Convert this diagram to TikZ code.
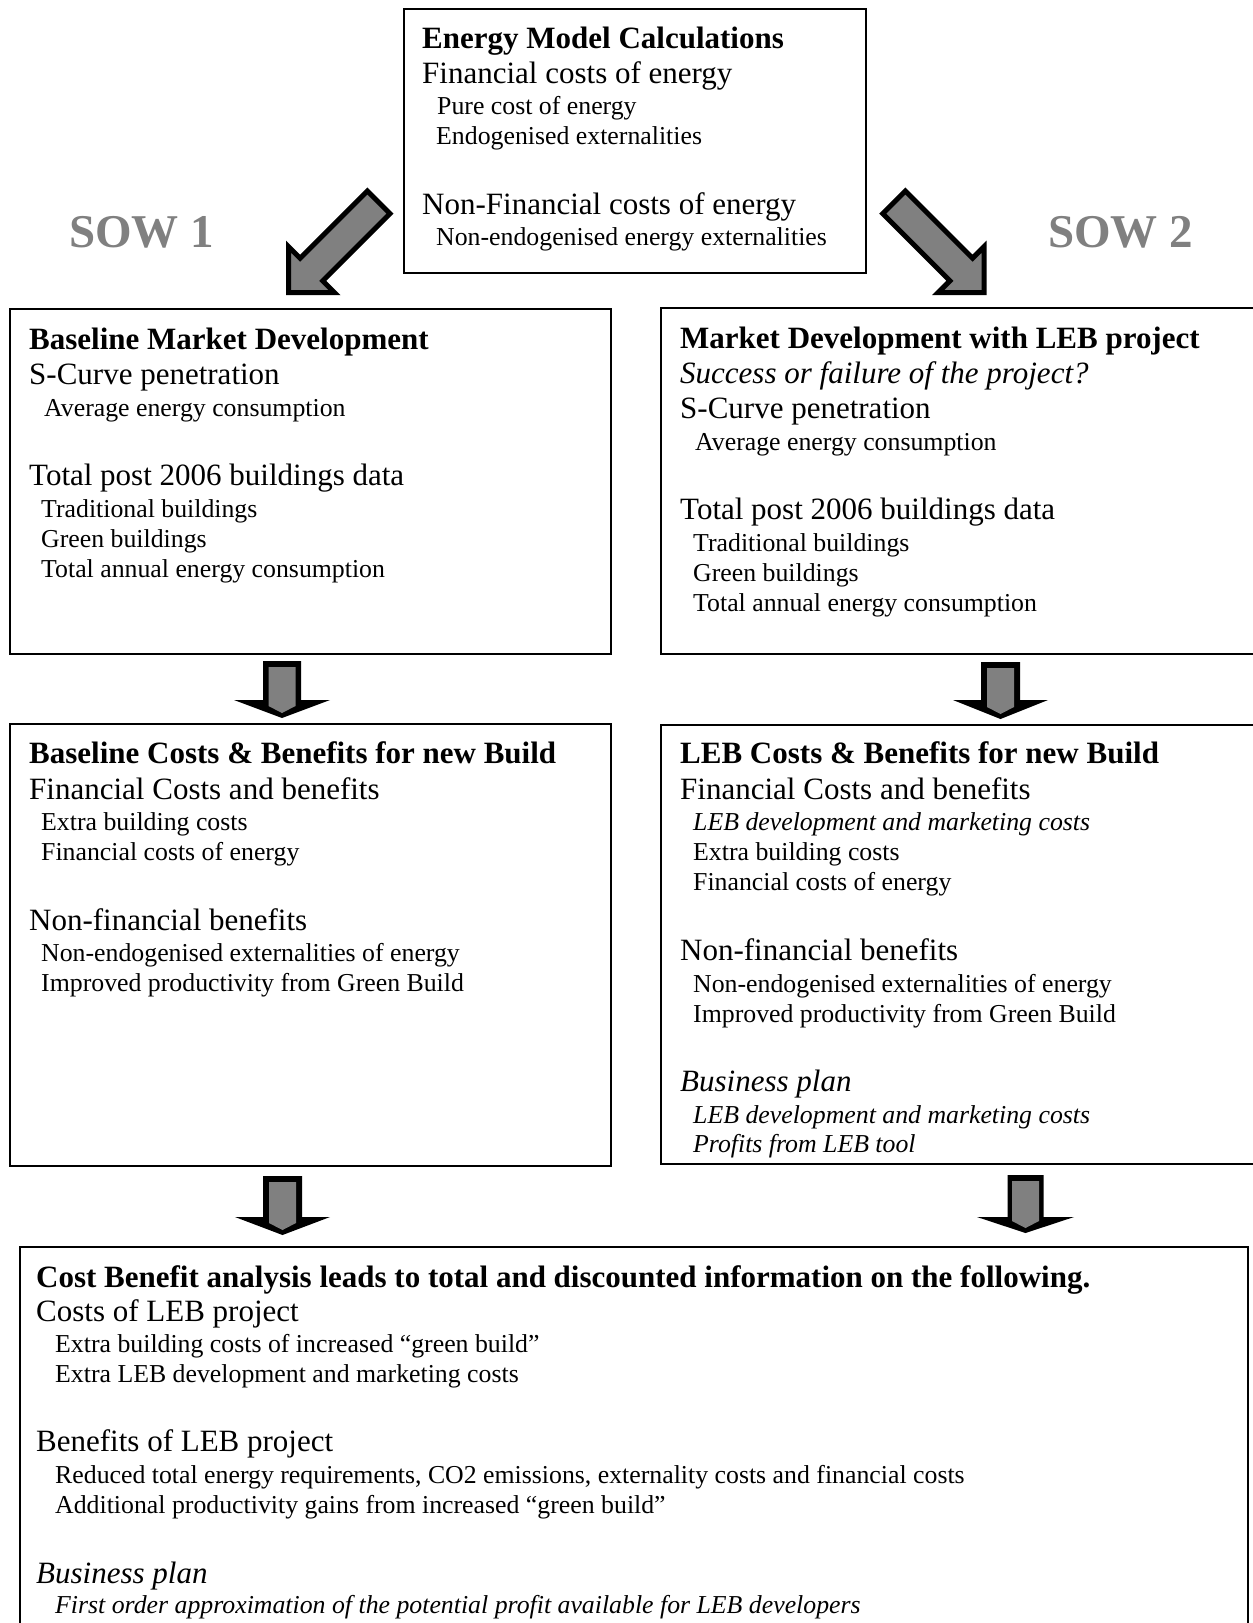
\documentclass[tikz,border=0pt]{standalone}
\usepackage{fontspec}
\setmainfont{Liberation Serif}
\usetikzlibrary{calc}

\tikzset{
  panel/.style={draw, line width=2pt, rectangle, inner sep=0pt, anchor=north west},
  headtxt/.style={anchor=base west, inner sep=0pt, font=\fontsize{31}{37}\selectfont\bfseries},
  bigtxt/.style={anchor=base west, inner sep=0pt, font=\fontsize{31}{37}\selectfont},
  bigit/.style={bigtxt, font=\fontsize{31}{37}\selectfont\itshape},
  smalltxt/.style={anchor=base west, inner sep=0pt, font=\fontsize{25.8}{30}\selectfont},
  smallit/.style={smalltxt, font=\fontsize{25.8}{30}\selectfont\itshape},
  sowtxt/.style={anchor=base west, inner sep=0pt, text=black!50, font=\fontsize{47}{56}\selectfont\bfseries},
  diagarrow/.style={fill=black!50, draw=black, line width=5pt, line join=miter}
}

% block arrow: [style]{tail}{tip}{shaft half width}{head half width}{head length}
\newcommand{\blockarrow}[6][]{%
  \coordinate (ba-h) at ($(#3)!#6!(#2)$);
  \path[#1] ($(#2)!#4!90:(#3)$) -- ($(ba-h)!#4!90:(#3)$) -- ($(ba-h)!#5!90:(#3)$) -- (#3)
    -- ($(ba-h)!#5!-90:(#3)$) -- ($(ba-h)!#4!-90:(#3)$) -- ($(#2)!#4!-90:(#3)$) -- cycle;
}
% black down arrow with a grey core
\newcommand{\downblock}[5]{%
  \blockarrow[fill=black]{#1}{#2}{#3}{#4}{#5}
  \coordinate (db-a) at ($(#1)!6pt!(#2)$);
  \coordinate (db-b) at ($(#2)!5pt!(#1)$);
  \blockarrow[fill=black!50]{db-a}{db-b}{13.5pt}{13.5pt}{7pt}
}

\begin{document}
\begin{tikzpicture}[x=1pt,y=-1pt]
    \useasboundingbox (0,0) rectangle (1253,1623);
    \clip (0,0) rectangle (1253,1623);

    % boxes
    \node[panel, minimum width=462pt, minimum height=264pt] (calc) at (403,8) {};
    \node[panel, minimum width=601pt, minimum height=345pt] (base) at (9,308) {};
    \node[panel, minimum width=600pt, minimum height=346pt] (leb) at (660,307) {};
    \node[panel, minimum width=601pt, minimum height=442pt] (cost) at (9,723) {};
    \node[panel, minimum width=600pt, minimum height=439pt] (lebc) at (660,724) {};
    \node[panel, minimum width=1228pt, minimum height=384pt] (cba) at (19,1246) {};

    % energy model
    \node[headtxt] (calc-t) at (422,48) {Energy Model Calculations};
    \node[bigtxt] (calc-f) at (422,83) {Financial costs of energy};
    \node[smalltxt] (calc-f1) at (437,114) {Pure cost of energy};
    \node[smalltxt] (calc-f2) at (436,144) {Endogenised externalities};
    \node[bigtxt] (calc-n) at (422,214) {Non-Financial costs of energy};
    \node[smalltxt] (calc-n1) at (436,245) {Non-endogenised energy externalities};

    % baseline market
    \node[headtxt] (base-t) at (29,349) {Baseline Market Development};
    \node[bigtxt] (base-s) at (29,384) {S-Curve penetration};
    \node[smalltxt] (base-s1) at (44,416) {Average energy consumption};
    \node[bigtxt] (base-p) at (29,485) {Total post 2006 buildings data};
    \node[smalltxt] (base-p1) at (41,517) {Traditional buildings};
    \node[smalltxt] (base-p2) at (41,547) {Green buildings};
    \node[smalltxt] (base-p3) at (41,577) {Total annual energy consumption};

    % market with LEB
    \node[headtxt] (leb-t) at (680,348) {Market Development with LEB project};
    \node[bigit] (leb-q) at (680,383) {Success or failure of the project?};
    \node[bigtxt] (leb-s) at (680,418) {S-Curve penetration};
    \node[smalltxt] (leb-s1) at (695,450) {Average energy consumption};
    \node[bigtxt] (leb-p) at (680,519) {Total post 2006 buildings data};
    \node[smalltxt] (leb-p1) at (693,551) {Traditional buildings};
    \node[smalltxt] (leb-p2) at (693,581) {Green buildings};
    \node[smalltxt] (leb-p3) at (693,611) {Total annual energy consumption};

    % baseline costs
    \node[headtxt] (cost-t) at (29,763) {Baseline Costs \& Benefits for new Build};
    \node[bigtxt] (cost-f) at (29,799) {Financial Costs and benefits};
    \node[smalltxt] (cost-f1) at (41,830) {Extra building costs};
    \node[smalltxt] (cost-f2) at (41,860) {Financial costs of energy};
    \node[bigtxt] (cost-n) at (29,930) {Non-financial benefits};
    \node[smalltxt] (cost-n1) at (41,961) {Non-endogenised externalities of energy};
    \node[smalltxt] (cost-n2) at (41,991) {Improved productivity from Green Build};

    % LEB costs
    \node[headtxt] (lebc-t) at (680,763) {LEB Costs \& Benefits for new Build};
    \node[bigtxt] (lebc-f) at (680,799) {Financial Costs and benefits};
    \node[smallit] (lebc-f1) at (693,830) {LEB development and marketing costs};
    \node[smalltxt] (lebc-f2) at (693,860) {Extra building costs};
    \node[smalltxt] (lebc-f3) at (693,890) {Financial costs of energy};
    \node[bigtxt] (lebc-n) at (680,960) {Non-financial benefits};
    \node[smalltxt] (lebc-n1) at (693,992) {Non-endogenised externalities of energy};
    \node[smalltxt] (lebc-n2) at (693,1022) {Improved productivity from Green Build};
    \node[bigit] (lebc-b) at (680,1091) {Business plan};
    \node[smallit] (lebc-b1) at (693,1123) {LEB development and marketing costs};
    \node[smallit] (lebc-b2) at (693,1152) {Profits from LEB tool};

    % cost benefit analysis
    \node[headtxt] (cba-t) at (36,1287) {Cost Benefit analysis leads to total and discounted information on the following.};
    \node[bigtxt] (cba-c) at (36,1321) {Costs of LEB project};
    \node[smalltxt] (cba-c1) at (55,1352) {Extra building costs of increased “green build”};
    \node[smalltxt] (cba-c2) at (55,1382) {Extra LEB development and marketing costs};
    \node[bigtxt] (cba-b) at (36,1451) {Benefits of LEB project};
    \node[smalltxt] (cba-b1) at (55,1483) {Reduced total energy requirements, CO2 emissions, externality costs and financial costs};
    \node[smalltxt] (cba-b2) at (55,1513) {Additional productivity gains from increased “green build”};
    \node[bigit] (cba-p) at (36,1583) {Business plan};
    \node[smallit] (cba-p1) at (55,1613) {First order approximation of the potential profit available for LEB developers};

    % SOW labels
    \node[sowtxt] (sow1) at (69,247) {SOW 1};
    \node[sowtxt] (sow2) at (1048,247) {SOW 2};

    % diagonal arrows
    \coordinate (sow1-tail) at (378.7,202.3);
    \coordinate (sow1-tip) at (288.5,292.5);
    \blockarrow[diagarrow]{sow1-tail}{sow1-tip}{16pt}{32.5pt}{32.5pt}
    \coordinate (sow2-tail) at (894,202.3);
    \coordinate (sow2-tip) at (984.2,292.5);
    \blockarrow[diagarrow]{sow2-tail}{sow2-tip}{16pt}{32.5pt}{32.5pt}

    % down arrows
    \coordinate (d1-tail) at (282,661);
    \coordinate (d1-tip) at (282,718);
    \downblock{d1-tail}{d1-tip}{19pt}{48pt}{18pt}
    \coordinate (d2-tail) at (1000.5,662);
    \coordinate (d2-tip) at (1000.5,719);
    \downblock{d2-tail}{d2-tip}{19.5pt}{47.5pt}{19pt}
    \coordinate (d3-tail) at (282.5,1176);
    \coordinate (d3-tip) at (282.5,1235);
    \downblock{d3-tail}{d3-tip}{19.5pt}{47.5pt}{18pt}
    \coordinate (d4-tail) at (1025.5,1175);
    \coordinate (d4-tip) at (1025.5,1233);
    \downblock{d4-tail}{d4-tip}{18pt}{48.5pt}{16pt}
\end{tikzpicture}
\end{document}
